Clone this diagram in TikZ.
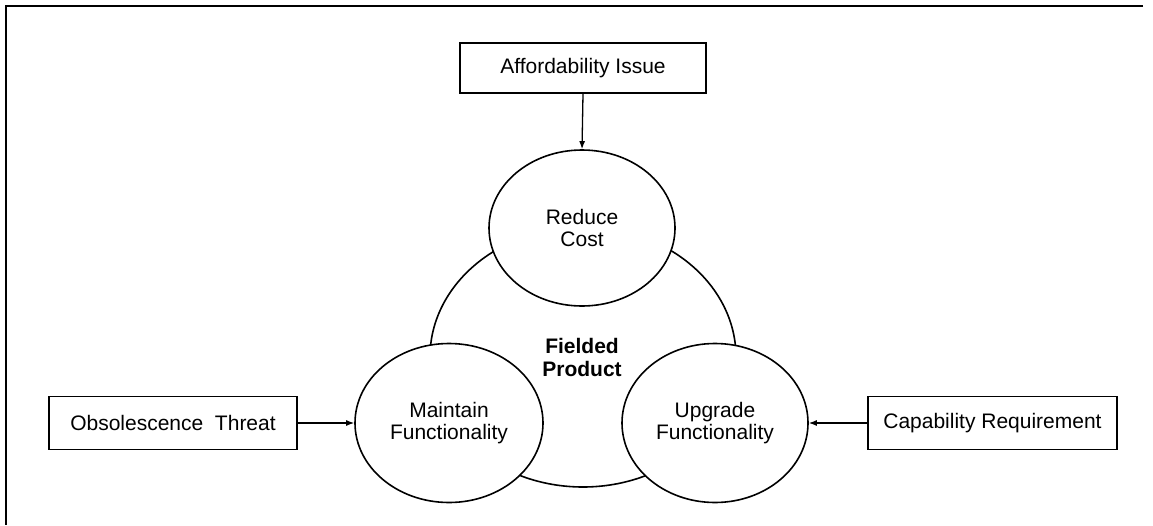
\documentclass[tikz,border=0pt]{standalone}
\usepackage{fontspec}
\setmainfont{Liberation Sans}
\usetikzlibrary{arrows.meta,shapes.geometric}
\begin{document}
\begin{tikzpicture}[x=1pt,y=-1pt,
  lbl/.style={font=\fontsize{21}{22}\selectfont, text=black, align=center},
  inbox/.style={draw, line width=1.8pt, minimum height=53pt, inner sep=0pt},
  oval/.style={draw, fill=white, line width=1.6pt, ellipse, inner sep=0pt},
  arr/.style={line width=1.3pt, -{Latex[length=8pt,width=6pt]}}
]
\useasboundingbox (0,0) rectangle (1153,525);
% frame (top and left only)
\draw[line width=2.2pt] (1143,6) -- (6,6) -- (6,525);

% boxes
\node[inbox, lbl, minimum width=246pt, minimum height=50pt] (aff) at (583,68) {Affordability Issue};
\node[inbox, lbl, minimum width=248pt] (obs) at (173,423) {Obsolescence\ \ Threat};
\node[inbox, lbl, minimum width=249pt] (cap) at (992.5,423) {Capability Requirement};

% circles, clipped at the bottom
\begin{scope}
\clip (0,0) rectangle (1153,503);
\node[oval, minimum width=306pt, minimum height=260pt] (fp) at (583,357) {};
\node[oval, minimum width=186pt, minimum height=156pt] (rc) at (582,228) {};
\node[oval, minimum width=188pt, minimum height=159pt] (mf) at (449,423) {};
\node[oval, minimum width=186pt, minimum height=159pt] (uf) at (715,423) {};
\end{scope}

% labels
\node[lbl] at (rc.center) {Reduce\\Cost};
\node[lbl, font=\fontsize{21}{23}\selectfont\bfseries] at (582,357) {Fielded\\Product};
\node[lbl] at (mf.center) {Maintain\\Functionality};
\node[lbl] at (uf.center) {Upgrade\\Functionality};

% connectors
\draw[arr] (aff.south) -- (rc.north);
\draw[arr] (obs.east) -- (mf.west);
\draw[arr] (cap.west) -- (uf.east);
\end{tikzpicture}
\end{document}
